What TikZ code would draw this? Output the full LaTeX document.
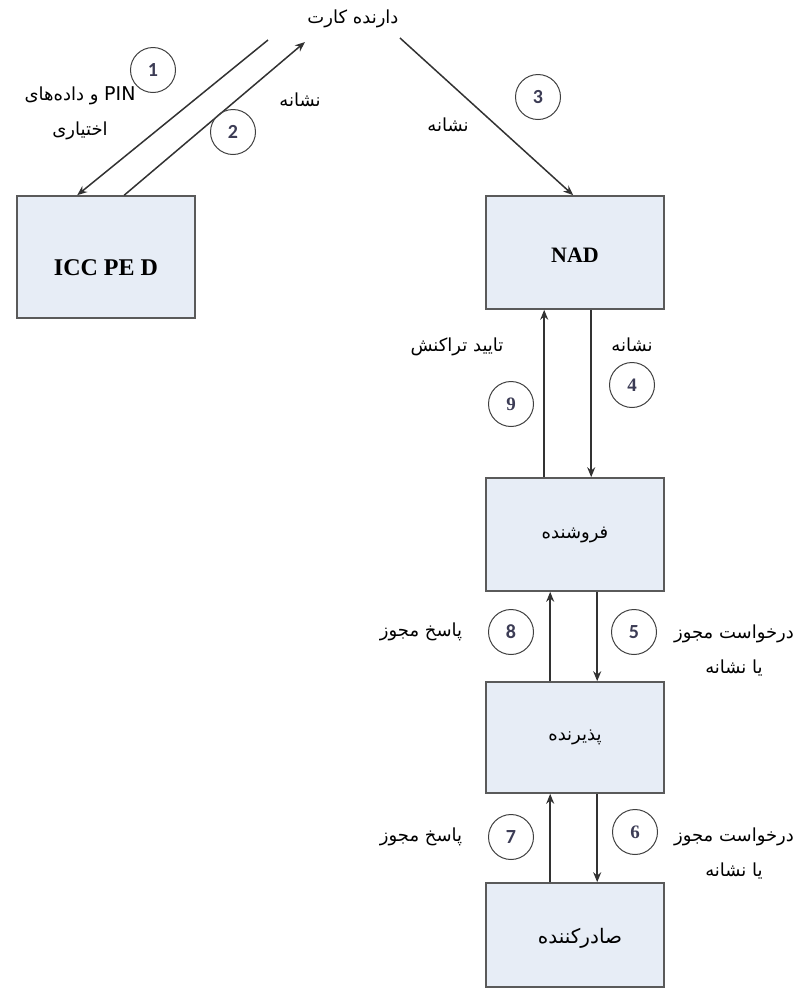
\documentclass[tikz,border=0pt]{standalone}
\usepackage{fontspec}
\setmainfont{Liberation Serif}
\newfontfamily\fafont[Script=Arabic]{DejaVu Sans}
\newfontfamily\digitfont{Carlito}
\TeXXeTstate=1
\usetikzlibrary{arrows.meta}

\definecolor{boxfill}{RGB}{231,237,246}
\definecolor{boxline}{RGB}{90,90,90}
\definecolor{arrowcol}{RGB}{50,50,50}
\definecolor{digitcol}{RGB}{60,60,85}

\newcommand{\fa}[1]{{\fafont\beginR #1\endR}}

\begin{document}
\begin{tikzpicture}[x=1pt,y=-1pt,
  block/.style={draw=boxline, fill=boxfill, line width=1.6pt, minimum width=178pt,
                inner sep=0pt, font=\fontsize{18}{22}\selectfont},
  latinlbl/.style={font=\fontsize{22}{26}\selectfont\bfseries},
  flow/.style={draw=arrowcol, line width=1.5pt, -{Stealth[length=10pt,width=8pt]}},
  stepnum/.style={circle, draw=black!75, line width=1pt, minimum size=45pt, inner sep=0pt,
                  text=digitcol, font=\digitfont\fontsize{20}{24}\selectfont\bfseries},
  serifnum/.style={stepnum, font=\fontsize{19}{24}\selectfont\bfseries},
  lbl/.style={font=\fontsize{18}{35}\selectfont, align=center, inner sep=0pt}
]
\useasboundingbox (0,0) rectangle (799,997);

% boxes
\node[block, minimum height=122pt] (icc) at (106,257) {};
\node[latinlbl, font=\fontsize{24}{28}\selectfont\bfseries] at (106,268) {ICC PE D};
\node[block, minimum height=113pt] (nad) at (575,252.5) {};
\node[latinlbl] at (575,255) {NAD};
\node[block, minimum height=113pt] (mer) at (575,534.5) {\fa{فروشنده}};
\node[block, minimum height=111pt] (acq) at (575,737.5) {\fa{پذیرنده}};
\node[block, minimum height=104pt] (iss) at (575,935) {};
\node[lbl, font=\fontsize{20}{24}\selectfont] at (580,938) {\fa{صادرکننده}};

% card holder
\node[lbl] (holder) at (353,19) {\fa{دارنده کارت}};
\coordinate (h1) at (268,40);
\coordinate (h2) at (305,42);
\coordinate (h3) at (400,38);

% connectors
\draw[flow] (h1) -- ([xshift=61pt]icc.north west);
\draw[flow] ([xshift=108pt]icc.north west) -- (h2);
\draw[flow] (h3) -- ([xshift=88pt]nad.north west);
\draw[flow] ([xshift=106pt]nad.south west) -- ([xshift=106pt]mer.north west);
\draw[flow] ([xshift=59pt]mer.north west) -- ([xshift=59pt]nad.south west);
\draw[flow] ([xshift=112pt]mer.south west) -- ([xshift=112pt]acq.north west);
\draw[flow] ([xshift=65pt]acq.north west) -- ([xshift=65pt]mer.south west);
\draw[flow] ([xshift=112pt]acq.south west) -- ([xshift=112pt]iss.north west);
\draw[flow] ([xshift=65pt]iss.north west) -- ([xshift=65pt]acq.south west);

% step numbers
\node[stepnum] (c1) at (153,70) {1};
\node[stepnum] (c2) at (233,132) {2};
\node[stepnum] (c3) at (538,97) {3};
\node[serifnum] (c4) at (632,385) {4};
\node[stepnum] (c5) at (634,632) {5};
\node[serifnum] (c6) at (635,832) {6};
\node[stepnum] (c7) at (511,837) {7};
\node[stepnum] (c8) at (511,632) {8};
\node[serifnum] (c9) at (511,404) {9};

% labels
\node[lbl] (l1) at (80,113) {\fa{\beginL{\fontsize{19}{22}\selectfont PIN}\endL{} و داده‌های}\\\fa{اختیاری}};
\node[lbl] (l2) at (300,100) {\fa{نشانه}};
\node[lbl] (l3) at (448,125) {\fa{نشانه}};
\node[lbl] (l4) at (632,345) {\fa{نشانه}};
\node[lbl] (l9) at (457,347) {\fa{تایید تراکنش}};
\node[lbl] (l5) at (734,650) {\fa{درخواست مجوز}\\\fa{یا نشانه}};
\node[lbl] (l8) at (421,632) {\fa{پاسخ مجوز}};
\node[lbl] (l6) at (734,853) {\fa{درخواست مجوز}\\\fa{یا نشانه}};
\node[lbl] (l7) at (421,837) {\fa{پاسخ مجوز}};
\end{tikzpicture}
\end{document}
